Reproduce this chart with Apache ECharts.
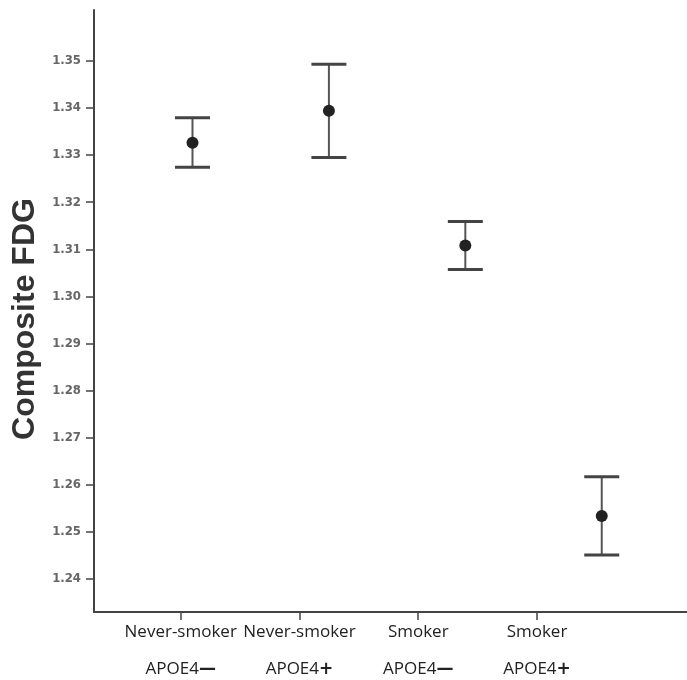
<!DOCTYPE html>
<html>
<head>
<meta charset="utf-8">
<script src="https://cdn.jsdelivr.net/npm/echarts@6/dist/echarts.min.js"></script>
<style>
  html, body { margin: 0; padding: 0; background: #fff; }
  #chart { width: 687px; height: 680px; }
</style>
</head>
<body>
<div id="chart"></div>
<script>
// groups
const smoking = ['Never-smoker', 'Never-smoker', 'Smoker', 'Smoker']
const apoe = ['—', '+', '—', '+']
const means = [1.3326, 1.3394, 1.3108, 1.2534]
const lower = [1.3274, 1.3295, 1.3057, 1.2451]
const upper = [1.3379, 1.3493, 1.3159, 1.2617]
const yTicks = [1.24, 1.25, 1.26, 1.27, 1.28, 1.29, 1.30, 1.31, 1.32, 1.33, 1.34, 1.35]
const groupIdx = [0, 1, 2, 3]

const chart = echarts.init(document.getElementById('chart'))

const errData = groupIdx.map(i => [i, lower[i], upper[i]])
const dotData = groupIdx.map(i => [i, means[i]])

const option = {
  backgroundColor: '#fff',
  animation: false,
  grid: { left: 94, top: 10, right: 0, bottom: 68 },
  xAxis: [
    {
      // labelled axis (labels sit a bit left of the points in the original)
      type: 'value',
      min: -0.73,
      max: 4.263,
      splitLine: { show: false },
      axisLine: { show: true, onZero: false, lineStyle: { color: '#444', width: 2 } },
      axisTick: { show: true, customValues: groupIdx, length: 8, lineStyle: { color: '#444', width: 1.5 } },
      axisLabel: {
        customValues: groupIdx,
        margin: 2,
        formatter: v => '{n|' + smoking[v] + '}\n{n|APOE4}{s|' + apoe[v] + '}',
        rich: {
          n: { fontFamily: 'Open Sans', fontSize: 17, color: '#222', lineHeight: 37 },
          s: { fontFamily: 'DejaVu Sans', fontSize: 17, fontWeight: 'bold', color: '#222', lineHeight: 37 }
        }
      }
    },
    {
      // position scale for the points
      type: 'value',
      show: false,
      min: -0.722,
      max: 3.625,
      splitLine: { show: false }
    }
  ],
  yAxis: {
    type: 'value',
    min: 1.233,
    max: 1.3608,
    name: 'Composite FDG',
    nameLocation: 'middle',
    nameGap: 52,
    nameTextStyle: { fontFamily: 'Liberation Sans', fontSize: 32, fontWeight: 'bold', color: '#333', padding: [0, 16, 0, 0] },
    splitLine: { show: false },
    axisLine: { show: true, onZero: false, lineStyle: { color: '#444', width: 2 } },
    axisTick: { show: true, customValues: yTicks, length: 8, lineStyle: { color: '#444', width: 1.5 } },
    axisLabel: {
      customValues: yTicks,
      margin: 13,
      fontFamily: 'DejaVu Sans Condensed',
      fontSize: 13,
      fontWeight: 'bold',
      color: '#666',
      formatter: v => v.toFixed(2)
    }
  },
  series: [
    {
      type: 'custom',
      xAxisIndex: 1,
      data: errData,
      encode: { x: 0, y: [1, 2] },
      renderItem: (params, api) => {
        const x = api.value(0)
        const lo = api.coord([x, api.value(1)])
        const hi = api.coord([x, api.value(2)])
        const half = 17.5
        return {
          type: 'group',
          children: [
            { type: 'line', shape: { x1: lo[0], y1: lo[1], x2: hi[0], y2: hi[1] }, style: { stroke: '#555', lineWidth: 2 } },
            { type: 'line', shape: { x1: hi[0] - half, y1: hi[1], x2: hi[0] + half, y2: hi[1] }, style: { stroke: '#444', lineWidth: 3 } },
            { type: 'line', shape: { x1: lo[0] - half, y1: lo[1], x2: lo[0] + half, y2: lo[1] }, style: { stroke: '#444', lineWidth: 3 } }
          ]
        }
      }
    },
    {
      type: 'scatter',
      xAxisIndex: 1,
      data: dotData,
      symbol: 'circle',
      symbolSize: 12,
      itemStyle: { color: '#222', opacity: 1 },
      z: 5
    }
  ]
}
chart.setOption(option)
</script>
</body>
</html>
